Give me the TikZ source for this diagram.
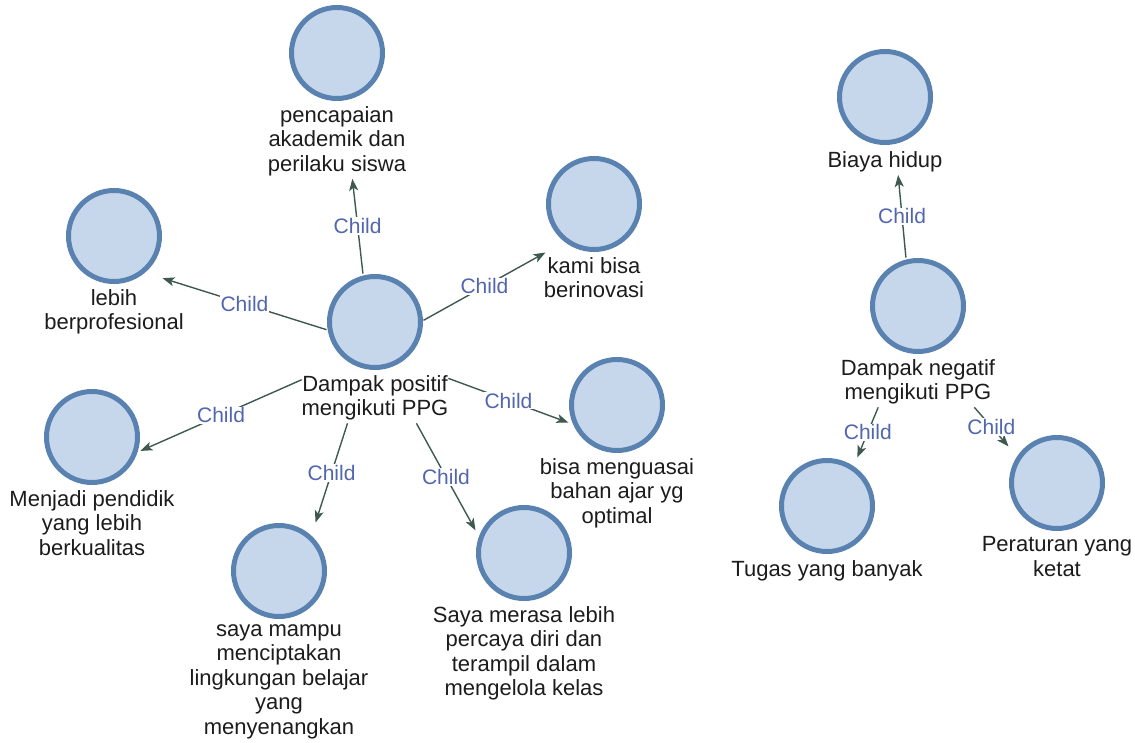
\documentclass[tikz,border=0pt]{standalone}
\usepackage{fontspec}
\setmainfont{Liberation Sans}
\usetikzlibrary{arrows.meta,positioning}
\definecolor{bubblefill}{HTML}{C6D6EB}
\definecolor{bubblering}{HTML}{5A82B0}
\definecolor{linkgreen}{HTML}{3E5950}
\definecolor{childblue}{HTML}{5166AE}
\definecolor{captiontext}{HTML}{1C1C1C}

\begin{document}
\begin{tikzpicture}[x=1pt,y=-1pt]
	\tikzstyle{every node}+=[inner sep=0pt, outer sep=0pt]
	\tikzstyle{bubble}=[rectangle, minimum size=97pt, path picture={\draw [line width=5pt, draw=bubblering, fill=bubblefill] (path picture bounding box.center) circle (45.5pt);}]
	\tikzstyle{caption}=[align=center, text=captiontext, font=\fontsize{22}{24.5}\selectfont, execute at begin node=\strut, execute at end node=\strut]
	\tikzstyle{childtag}=[fill=white, inner sep=1pt, text=childblue, font=\fontsize{21}{24}\selectfont]
	\tikzstyle{edgeline}=[draw=linkgreen, line width=1.4pt, -{Stealth[length=12pt,width=9pt,inset=3pt]}]
	\useasboundingbox (0,0) rectangle (1135,742);
	\node [bubble] (pos) at (375,322) {};
	\node [caption, below=5pt of pos] (posl) {Dampak positif\\mengikuti PPG};
	\node [bubble] (akad) at (337,53) {};
	\node [caption, below=5pt of akad] (akadl) {pencapaian\\akademik dan\\perilaku siswa};
	\node [bubble] (prof) at (114,236) {};
	\node [caption, below=5pt of prof] (profl) {lebih\\berprofesional};
	\node [bubble] (inov) at (594,204) {};
	\node [caption, below=5pt of inov] (inovl) {kami bisa\\berinovasi};
	\node [bubble] (kual) at (92,437) {};
	\node [caption, below=5pt of kual] (kuall) {Menjadi pendidik\\yang lebih\\berkualitas};
	\node [bubble] (bahan) at (617,405) {};
	\node [caption, below=5pt of bahan] (bahanl) {bisa menguasai\\bahan ajar yg\\optimal};
	\node [bubble] (ling) at (279,571) {};
	\node [caption, below=5pt of ling] (lingl) {saya mampu\\menciptakan\\lingkungan belajar\\yang\\menyenangkan};
	\node [bubble] (pede) at (524,553) {};
	\node [caption, below=5pt of pede] (pedel) {Saya merasa lebih\\percaya diri dan\\terampil dalam\\mengelola kelas};
	\node [bubble] (neg) at (918,306) {};
	\node [caption, below=5pt of neg] (negl) {Dampak negatif\\mengikuti PPG};
	\node [bubble] (biaya) at (885,97) {};
	\node [caption, below=5pt of biaya] (biayal) {Biaya hidup};
	\node [bubble] (tugas) at (827,506) {};
	\node [caption, below=5pt of tugas] (tugasl) {Tugas yang banyak};
	\node [bubble] (atur) at (1057,483) {};
	\node [caption, below=5pt of atur] (aturl) {Peraturan yang\\ketat};
	\draw [edgeline] (pos.104) -- node [childtag] (c1) {Child} (akadl.293);
	\draw [edgeline] (pos.189) -- node [childtag] (c2) {Child} (prof.319);
	\draw [edgeline] (pos.2) -- node [childtag] (c3) {Child} (inov.south west);
	\draw [edgeline] (posl.165) -- node [childtag] (c4) {Child} (kual.344);
	\draw [edgeline] (posl.16) -- node [childtag] (c5) {Child} (bahan.200);
	\draw [edgeline] (posl.221) -- node [childtag] (c6) {Child} (ling.53);
	\draw [edgeline] (posl.330) -- node [childtag] (c7) {Child} (pede.155);
	\draw [edgeline] (neg.104) -- node [childtag] (c8) {Child} (biayal.317);
	\draw [edgeline] (negl.211) -- node [childtag] (c9) {Child} (tugas.58);
	\draw [edgeline] (negl.337) -- node [childtag] (c10) {Child} (atur.143);
\end{tikzpicture}
\end{document}
